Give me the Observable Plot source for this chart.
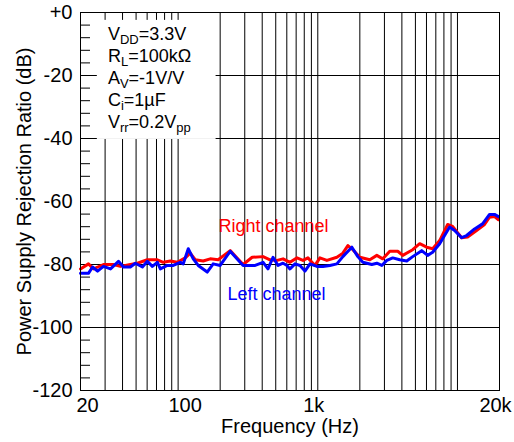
<!DOCTYPE html>
<html><head><meta charset="utf-8">
<script src="https://cdn.jsdelivr.net/npm/d3@7"></script>
<script src="https://cdn.jsdelivr.net/npm/@observablehq/plot@0.6"></script>
<style>
body{margin:0;background:#fff}
#chart svg{display:block}
</style>
</head><body><div id="chart"></div>
<script>
// ---- data ----
const rightFreq = [20, 22.8, 24.8, 29.2, 34.4, 38.6, 45.5, 51.1, 60.2, 71.0, 78.3, 87.9, 98.6, 112.5, 122.1, 132.6, 151.2, 169.7, 193.5, 236, 292, 339, 406, 455, 511, 564, 632, 710, 783, 850, 954, 1036, 1162, 1370, 1512, 1642, 1782, 2000, 2358, 2646, 2920, 3277, 3736, 4056, 4781, 5365, 6020, 6643, 7457, 8509, 9230, 10710, 11820, 13700, 15630, 16970, 18420, 19670];
const rightDb = [-81.4, -79.8, -81.4, -80.0, -80.0, -80.6, -80.0, -79.6, -78.5, -78.5, -79.3, -78.9, -79.3, -77.9, -76.4, -78.5, -78.9, -78.2, -78.5, -75.6, -80.0, -77.7, -77.5, -78.5, -78.7, -78.2, -79.3, -77.9, -78.7, -77.9, -80.3, -77.9, -78.7, -77.7, -76.4, -74.0, -75.3, -77.7, -78.5, -77.1, -78.2, -75.8, -75.8, -77.1, -75.3, -73.4, -74.5, -75.0, -72.4, -67.3, -67.9, -71.5, -71.3, -69.2, -67.3, -65.0, -64.8, -65.8];
const leftFreq = [20, 22.8, 24.4, 26.5, 29.2, 32.8, 37.4, 40.6, 45.5, 49.4, 55.5, 60.2, 65.4, 71.0, 74.6, 83.6, 92.3, 103.6, 108.8, 118.2, 128.3, 139.3, 161.5, 178.3, 200, 236, 278, 292, 356, 406, 440, 478, 519, 564, 602, 632, 687, 746, 809, 879, 986, 1088, 1221, 1370, 1512, 1754, 1935, 2102, 2436, 2646, 2872, 3120, 3442, 3861, 4333, 4781, 5545, 6118, 6643, 7457, 8790, 9544, 10710, 11630, 13260, 15120, 16970, 18420, 19670];
const leftDb = [-82.8, -82.8, -80.8, -82.1, -80.6, -81.4, -79.0, -80.8, -80.8, -79.6, -80.8, -79.0, -80.6, -79.3, -81.4, -80.3, -80.3, -79.3, -79.8, -75.0, -78.2, -80.3, -82.4, -79.8, -80.3, -75.8, -79.3, -80.3, -80.3, -79.3, -81.4, -77.7, -80.3, -79.6, -80.3, -81.4, -79.8, -80.3, -82.1, -79.8, -80.6, -80.6, -80.3, -79.8, -77.5, -74.5, -77.5, -79.3, -80.0, -79.6, -80.3, -78.7, -77.9, -78.5, -78.9, -77.5, -75.6, -77.1, -76.1, -73.4, -68.1, -69.2, -71.5, -70.8, -68.7, -67.1, -64.1, -64.1, -64.8];

const xTicksLow = [20, 100];
const xTicksHigh = [1000, 20000];
const xTickLabel = {20: "20", 100: "100", 1000: "1k", 20000: "20k"};
const xGrid = [30,40,50,60,70,80,90,100,200,300,400,500,600,700,800,900,1000,2000,3000,4000,5000,6000,7000,8000,9000,10000];
const yTicks = [0, -20, -40, -60, -80, -100, -120];
const yTickLabels = ["+0", "-20", "-40", "-60", "-80", "-100", "-120"];
const yMinor = [-4,-8,-12,-16,-24,-28,-32,-36,-44,-48,-52,-56,-64,-68,-72,-76,-84,-88,-92,-96,-104,-108,-112,-116];

const seriesLabels = [
  {text: "Right channel", f: 482, db: -68, color: "#ff0000"},
  {text: "Left channel", f: 506, db: -89.5, color: "#0000ff"}
];
// annotation block: [text, isSubscript]
const notes = [
  [["V",0],["DD",1],["=3.3V",0]],
  [["R",0],["L",1],["=100kΩ",0]],
  [["A",0],["V",1],["=-1V/V",0]],
  [["C",0],["i",1],["=1µF",0]],
  [["V",0],["rr",1],["=0.2V",0],["pp",1]]
];
const noteAnchor = {f: 31.7, db: -9};
const noteBox = {f1: 26.4, f2: 187, db1: -2.5, db2: -40.3};

const right = rightFreq.map((f, i) => ({f, db: rightDb[i]}));
const left = leftFreq.map((f, i) => ({f, db: leftDb[i]}));
const FONT = "'Liberation Sans', Arial, Helvetica, sans-serif";

const plot = Plot.plot({
  width: 514, height: 442,
  marginLeft: 80, marginRight: 15, marginTop: 12, marginBottom: 52,
  style: {fontFamily: FONT, fontSize: "20px", background: "#fff", color: "#000", overflow: "visible"},
  x: {type: "log", domain: [20, 20000], axis: null},
  y: {domain: [-120, 0], axis: null},
  marks: [
    Plot.ruleX(xGrid, {stroke: "#000", strokeWidth: 1}),
    Plot.ruleY(yTicks, {stroke: "#000", strokeWidth: 1}),
    Plot.rect([noteBox], {x1: "f1", x2: "f2", y1: "db1", y2: "db2", fill: "#fff"}),
    Plot.axisY(yMinor, {tickSize: -10, tickFormat: () => "", label: null, stroke: "#000"}),
    Plot.axisY(yTicks, {tickSize: 0, tickPadding: 8, label: null, tickFormat: (d) => yTickLabels[yTicks.indexOf(d)]}),
    Plot.text(xTicksLow, {x: (d) => d, text: (d) => xTickLabel[d], frameAnchor: "bottom", dx: 7, dy: 7, lineAnchor: "top", fontSize: 20}),
    Plot.text(xTicksHigh, {x: (d) => d, text: (d) => xTickLabel[d], frameAnchor: "bottom", dx: -4, dy: 7, lineAnchor: "top", fontSize: 20}),
    Plot.line(right, {x: "f", y: "db", stroke: "#ff0000", strokeWidth: 3, strokeLinejoin: "round"}),
    Plot.line(left, {x: "f", y: "db", stroke: "#0000ff", strokeWidth: 3, strokeLinejoin: "round"}),
    Plot.text(seriesLabels, {x: "f", y: "db", text: "text", fill: "color", fontSize: 18}),
    Plot.text(["Frequency (Hz)"], {frameAnchor: "bottom", dy: 42, lineAnchor: "bottom", textAnchor: "middle", fontSize: 20}),
    Plot.text(["Power Supply Rejection Ratio (dB)"], {frameAnchor: "left", dx: -50, rotate: -90, lineAnchor: "bottom", textAnchor: "middle", fontSize: 20}),
    Plot.frame({stroke: "#000", strokeWidth: 1})
  ]
});

// annotation with subscripts
const sx = plot.scale("x"), sy = plot.scale("y");
const g = d3.select(plot).append("g")
  .attr("font-family", FONT).attr("font-size", 18).attr("fill", "#000")
  .attr("text-anchor", "start");
const x0 = sx.apply(noteAnchor.f), y0 = sy.apply(noteAnchor.db);
notes.forEach((parts, i) => {
  const t = g.append("text").attr("x", x0).attr("y", y0 + i * 22).attr("text-anchor", "start");
  parts.forEach(([s, sub], j) => {
    const ts = t.append("tspan").text(s);
    const prevSub = j > 0 && parts[j - 1][1];
    if (sub) ts.attr("font-size", 13).attr("dy", 4);
    else if (prevSub) ts.attr("dy", -4);
  });
});

document.getElementById("chart").append(plot);
</script>
</body></html>
